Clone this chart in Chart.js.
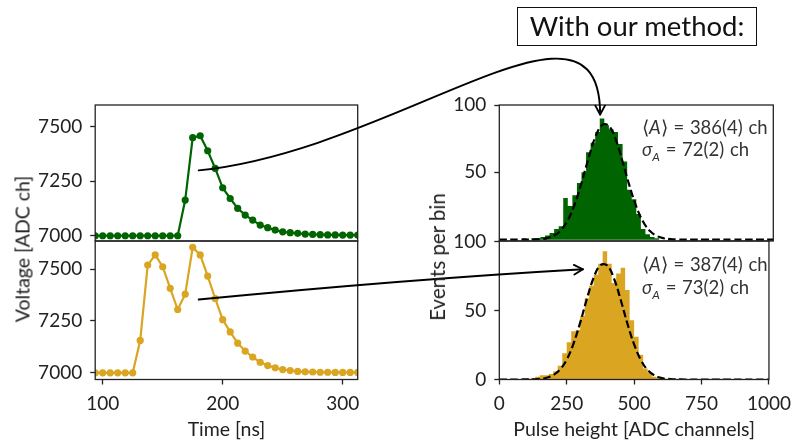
<!DOCTYPE html>
<html lang="en">
<head>
    <meta charset="UTF-8">
    <title>Pulse height with our method</title>
    <style>
        body { margin: 0; background: #fff; font-family: Lato, "Noto Sans", sans-serif; }
        #wrap { position: relative; width: 799px; height: 440px; overflow: hidden; }
        #wrap canvas { position: absolute; left: 0; top: 0; }
        .txt { position: absolute; color: #222; white-space: nowrap; }
        .ann { font-size: 18.5px; color: #333; transform: translateY(-50%); word-spacing: 1px; }
        .ann sub { font-size: 12px; }
        .ytitle { font-size: 19.5px; transform: translate(-50%, -50%) rotate(-90deg); }
        #box {
            position: absolute; left: 517px; top: 7px; width: 240px; height: 39px;
            box-sizing: border-box; border: 1.3px solid #111;
            font-size: 27.5px; color: #111; text-align: center; line-height: 35px;
        }
    </style>
</head>
<body>
<div id="wrap">
    <canvas id="tl" width="799" height="440"></canvas>
    <canvas id="bl" width="799" height="440"></canvas>
    <canvas id="tr" width="799" height="440"></canvas>
    <canvas id="br" width="799" height="440"></canvas>
    <canvas id="ov" width="799" height="440"></canvas>
    <div class="txt ytitle" style="left:22px; top:249px;">Voltage [ADC ch]</div>
    <div class="txt ytitle" style="left:437px; top:257px; font-size:20.5px;">Events per bin</div>
    <div class="txt ann" style="left:642px; top:127px;">⟨<i>A</i>⟩ = 386(4) ch</div>
    <div class="txt ann" style="left:642px; top:151px;"><i>σ</i><sub><i>A</i></sub> = 72(2) ch</div>
    <div class="txt ann" style="left:642px; top:264px;">⟨<i>A</i>⟩ = 387(4) ch</div>
    <div class="txt ann" style="left:642px; top:289px;"><i>σ</i><sub><i>A</i></sub> = 73(2) ch</div>
    <div id="box">With our method:</div>
</div>
<script src="https://cdn.jsdelivr.net/npm/chart.js"></script>
<script>
    // sampled waveforms (6.25 ns sampling)
    const timeNs = [93.75, 100, 106.25, 112.5, 118.75, 125, 131.25, 137.5, 143.75, 150, 156.25, 162.5,
        168.75, 175, 181.25, 187.5, 193.75, 200, 206.25, 212.5, 218.75, 225, 231.25, 237.5, 243.75,
        250, 256.25, 262.5, 268.75, 275, 281.25, 287.5, 293.75, 300, 306.25, 312.5];
    const voltsGreen = [7000, 7000, 7000, 7000, 7000, 7000, 7000, 7000, 7000, 7000, 7000, 7000,
        7164, 7450, 7459, 7390, 7309, 7220, 7171, 7126, 7095, 7072, 7049, 7037, 7026,
        7018, 7014, 7011, 7008, 7006, 7005, 7004, 7004, 7003, 7003, 7003];
    const voltsGold = [7000, 7000, 7000, 7000, 7000, 7000, 7156, 7519, 7568, 7511, 7407, 7305,
        7379, 7605, 7568, 7466, 7358, 7256, 7197, 7143, 7105, 7076, 7051, 7035, 7024,
        7016, 7011, 7007, 7005, 7004, 7003, 7003, 7002, 7002, 7002, 7002];

    // pulse height histograms, 60 bins over 0..1000
    const binCenters = [8.33, 25, 41.67, 58.33, 75, 91.67, 108.33, 125, 141.67, 158.33, 175, 191.67,
        208.33, 225, 241.67, 258.33, 275, 291.67, 308.33, 325, 341.67, 358.33, 375, 391.67,
        408.33, 425, 441.67, 458.33, 475, 491.67, 508.33, 525, 541.67, 558.33, 575, 591.67,
        608.33, 625, 641.67, 658.33, 675, 691.67, 708.33, 725, 741.67, 758.33, 775, 791.67,
        808.33, 825, 841.67, 858.33, 875, 891.67, 908.33, 925, 941.67, 958.33, 975, 991.67];
    const binWidth = 16.67;
    const countsGreen = [0, 0, 0, 0, 0, 1, 0, 1, 1, 2, 3, 5,
        8, 10, 31, 25, 33, 42, 50, 65, 72, 80, 90, 85,
        82, 80, 71, 58, 37, 30, 19, 8, 4, 2, 1, 0,
        0, 0, 0, 0, 0, 0, 0, 0, 0, 0, 0, 0,
        0, 0, 0, 0, 0, 0, 0, 0, 0, 0, 0, 0];
    const countsGold = [0, 0, 0, 0, 0, 0, 0, 1, 2, 3, 3, 4,
        6, 10, 19, 27, 35, 36, 46, 59, 68, 76, 84, 93,
        84, 70, 77, 81, 65, 43, 31, 18, 8, 5, 2, 1,
        1, 0, 0, 0, 0, 0, 0, 0, 0, 0, 0, 0,
        0, 0, 0, 0, 0, 0, 0, 0, 0, 0, 0, 0];

    // gaussian fits
    const fitX = [0, 25, 50, 75, 100, 125, 150, 175, 200, 225, 250, 275, 300, 325, 350, 375, 400,
        425, 450, 475, 500, 525, 550, 575, 600, 625, 650, 675, 700, 750, 800, 850, 900, 950, 1000];
    const fitGreen = [0, 0, 0, 0.01, 0.03, 0.12, 0.4, 1.18, 3.06, 7.06, 14.45, 26.2, 42.1, 60.1, 75.9,
        85.0, 84.4, 74.3, 57.9, 40.1, 24.6, 13.3, 6.4, 2.75, 1.04, 0.35, 0.1, 0.03, 0, 0, 0, 0, 0, 0, 0];
    const fitGold = [0, 0, 0, 0.01, 0.04, 0.13, 0.43, 1.24, 3.16, 7.16, 14.4, 25.9, 41.3, 58.6, 73.9,
        82.9, 82.7, 73.4, 57.9, 40.6, 25.4, 14.1, 6.9, 3.05, 1.19, 0.41, 0.13, 0.04, 0, 0, 0, 0, 0, 0, 0];

    const timeTicks = [100, 200, 300];
    const voltTicks = [7000, 7250, 7500];
    const pulseTicks = [0, 250, 500, 750, 1000];
    const eventTicksTop = [50, 100];
    const eventTicksBottom = [0, 50, 100];

    const GREEN = '#006400';
    const GOLD = '#daa520';
    const INK = '#222';
    const FONT = 'Lato, "Noto Sans", sans-serif';

    const framePlugin = {
        id: 'frame',
        afterDraw(chart) {
            const { ctx, chartArea: a } = chart;
            ctx.save();
            ctx.strokeStyle = INK;
            ctx.lineWidth = 1.3;
            ctx.strokeRect(a.left, a.top, a.right - a.left, a.bottom - a.top);
            ctx.restore();
        }
    };

    function axis(min, max, ticks, opts) {
        return {
            type: 'linear', min, max,
            display: opts.display !== false,
            afterBuildTicks: s => { s.ticks = ticks.map(v => ({ value: v })); },
            afterFit: s => { if (opts.size) { if (s.isHorizontal()) s.height = opts.size; else s.width = opts.size; } },
            grid: { drawOnChartArea: false, drawTicks: true, tickLength: 5, tickColor: INK, tickWidth: 1.3 },
            border: { display: false },
            ticks: { color: INK, font: { family: FONT, size: 19 }, padding: opts.pad || 6, maxRotation: 0,
                     callback: v => String(v) },
            title: opts.title ? { display: true, text: opts.title, color: INK, font: { family: FONT, size: 19.5 },
                                  padding: { top: 0, bottom: -3 } } : { display: false }
        };
    }

    function baseOptions(padding, scales) {
        return {
            responsive: false, animation: false, events: [],
            layout: { padding },
            plugins: { legend: { display: false }, tooltip: { enabled: false } },
            scales
        };
    }

    function waveChart(id, values, color, yMin, yMax, bottom, padding) {
        return new Chart(document.getElementById(id), {
            type: 'line',
            data: { datasets: [{
                data: timeNs.map((t, i) => ({ x: t, y: values[i] })),
                borderColor: color, backgroundColor: color,
                borderWidth: 2.2, pointRadius: 3.6, pointBorderWidth: 0, tension: 0
            }] },
            options: baseOptions(padding, {
                x: axis(93.75, 312.5, timeTicks, bottom ? { size: 59, title: 'Time [ns]', pad: 8 } : { display: false }),
                y: axis(yMin, yMax, voltTicks, { size: 60, pad: 8 })
            }),
            plugins: [framePlugin]
        });
    }

    // histogram outline: each bin becomes a flat top from its left edge to its right edge
    function binOutline(counts) {
        const pts = [];
        binCenters.forEach((c, i) => {
            pts.push({ x: c - binWidth / 2, y: counts[i] }, { x: c + binWidth / 2, y: counts[i] });
        });
        return pts;
    }

    function histChart(id, counts, fit, color, yMin, yMax, yTicks, bottom, padding) {
        return new Chart(document.getElementById(id), {
            type: 'line',
            data: { datasets: [
                {
                    order: 0,
                    data: fitX.map((x, i) => ({ x, y: fit[i] })),
                    borderColor: '#000', borderWidth: 2.2, borderDash: [7.5, 3.5],
                    pointRadius: 0, tension: 0.4, fill: false
                },
                {
                    order: 1,
                    data: binOutline(counts),
                    fill: 'origin', tension: 0,
                    backgroundColor: color, borderColor: color, borderWidth: 0, pointRadius: 0
                }
            ] },
            options: baseOptions(padding, {
                x: axis(0, 1000, pulseTicks,
                    bottom ? { size: 59, title: 'Pulse height [ADC channels]', pad: 8 } : { display: false }),
                y: axis(yMin, yMax, yTicks, { size: 60, pad: 8 })
            }),
            plugins: [framePlugin]
        });
    }

    const tl = waveChart('tl', voltsGreen, GREEN, 6976, 7600, false, { left: 35.2, right: 441.3, top: 105, bottom: 199 });
    const bl = waveChart('bl', voltsGold, GOLD, 6968, 7635, true, { left: 35.2, right: 441.3, top: 241, bottom: 1.5 });
    const tr = histChart('tr', countsGreen, fitGreen, GREEN, -1, 100, eventTicksTop, false, { left: 439.3, right: 25.7, top: 105, bottom: 199 });
    const br = histChart('br', countsGold, fitGold, GOLD, 0, 100.5, eventTicksBottom, true, { left: 439.3, right: 25.7, top: 241, bottom: 1.5 });

    // connecting arrows drawn from the charts' own scales
    const ov = document.getElementById('ov').getContext('2d');
    function pt(chart, x, y) {
        return { x: chart.scales.x.getPixelForValue(x), y: chart.scales.y.getPixelForValue(y) };
    }
    function arrow(p0, d1, d2, p3) {
        const c1 = { x: p0.x + d1[0], y: p0.y + d1[1] };
        const c2 = { x: p3.x + d2[0], y: p3.y + d2[1] };
        ov.save();
        ov.strokeStyle = '#000';
        ov.lineWidth = 1.9;
        ov.lineCap = 'round';
        ov.beginPath();
        ov.moveTo(p0.x, p0.y);
        ov.bezierCurveTo(c1.x, c1.y, c2.x, c2.y, p3.x, p3.y);
        ov.stroke();
        const ang = Math.atan2(p3.y - c2.y, p3.x - c2.x);
        ov.beginPath();
        for (const s of [-1, 1]) {
            ov.moveTo(p3.x - 10 * Math.cos(ang + s * 0.5), p3.y - 10 * Math.sin(ang + s * 0.5));
            ov.lineTo(p3.x, p3.y);
        }
        ov.stroke();
        ov.restore();
    }
    arrow(pt(tl, 180, 7300), [200, -20], [0, -145], pt(tr, 368, 93));
    arrow(pt(bl, 180, 7353), [134, -13], [-123, 7], pt(br, 310, 80));
</script>
</body>
</html>
